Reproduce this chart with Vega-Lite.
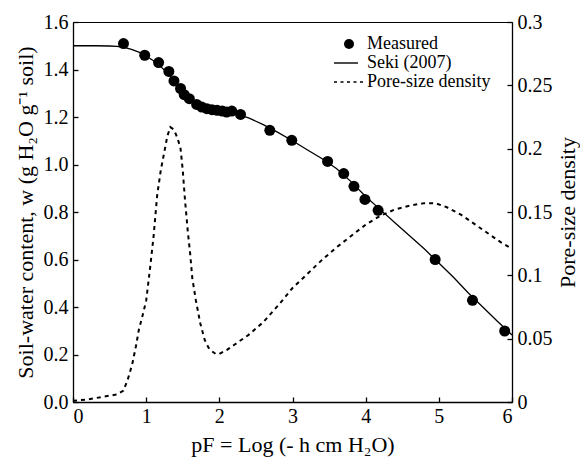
{
  "$schema": "https://vega.github.io/schema/vega-lite/v6.json",
  "width": 439,
  "height": 380,
  "autosize": {"type": "none"},
  "padding": {"left": 73, "top": 22, "right": 68, "bottom": 61},
  "background": "white",
  "config": {
    "view": {"stroke": "black", "strokeWidth": 1},
    "font": "Liberation Serif",
    "axis": {
      "labelFont": "Liberation Serif",
      "titleFont": "Liberation Serif",
      "labelColor": "black",
      "titleColor": "black",
      "domainColor": "black",
      "tickColor": "black",
      "titleFontWeight": "normal",
      "labelFontSize": 20,
      "titleFontSize": 22,
      "grid": false,
      "tickSize": -5,
      "domainWidth": 1.3,
      "tickWidth": 1.3
    },
    "legend": {
      "labelFont": "Liberation Serif",
      "labelFontSize": 18,
      "labelColor": "black"
    }
  },
  "datasets": {
    "seki": [
      {"pF": 0, "w": 1.5}, {"pF": 0.3, "w": 1.5}, {"pF": 0.5, "w": 1.499}, {"pF": 0.6, "w": 1.497},
      {"pF": 0.7, "w": 1.493}, {"pF": 0.8, "w": 1.485}, {"pF": 0.9, "w": 1.473}, {"pF": 1.0, "w": 1.457},
      {"pF": 1.1, "w": 1.437}, {"pF": 1.2, "w": 1.412}, {"pF": 1.3, "w": 1.382}, {"pF": 1.4, "w": 1.345},
      {"pF": 1.5, "w": 1.305}, {"pF": 1.6, "w": 1.275}, {"pF": 1.7, "w": 1.255}, {"pF": 1.8, "w": 1.242},
      {"pF": 1.9, "w": 1.234}, {"pF": 2.0, "w": 1.228}, {"pF": 2.1, "w": 1.222}, {"pF": 2.2, "w": 1.215},
      {"pF": 2.4, "w": 1.196}, {"pF": 2.6, "w": 1.168}, {"pF": 2.8, "w": 1.135}, {"pF": 3.0, "w": 1.1},
      {"pF": 3.2, "w": 1.062}, {"pF": 3.4, "w": 1.025}, {"pF": 3.6, "w": 0.983}, {"pF": 3.8, "w": 0.928},
      {"pF": 4.0, "w": 0.865}, {"pF": 4.2, "w": 0.81}, {"pF": 4.4, "w": 0.755}, {"pF": 4.6, "w": 0.7},
      {"pF": 4.8, "w": 0.645}, {"pF": 5.0, "w": 0.585}, {"pF": 5.2, "w": 0.525}, {"pF": 5.4, "w": 0.46},
      {"pF": 5.6, "w": 0.4}, {"pF": 5.8, "w": 0.34}, {"pF": 6.0, "w": 0.282}
    ],
    "measured": [
      {"pF": 0.69, "w": 1.509, "series": "Measured"},
      {"pF": 0.98, "w": 1.46, "series": "Measured"},
      {"pF": 1.17, "w": 1.429, "series": "Measured"},
      {"pF": 1.31, "w": 1.392, "series": "Measured"},
      {"pF": 1.38, "w": 1.352, "series": "Measured"},
      {"pF": 1.47, "w": 1.32, "series": "Measured"},
      {"pF": 1.52, "w": 1.294, "series": "Measured"},
      {"pF": 1.59, "w": 1.277, "series": "Measured"},
      {"pF": 1.69, "w": 1.253, "series": "Measured"},
      {"pF": 1.76, "w": 1.242, "series": "Measured"},
      {"pF": 1.83, "w": 1.235, "series": "Measured"},
      {"pF": 1.9, "w": 1.231, "series": "Measured"},
      {"pF": 1.97, "w": 1.228, "series": "Measured"},
      {"pF": 2.04, "w": 1.225, "series": "Measured"},
      {"pF": 2.1, "w": 1.221, "series": "Measured"},
      {"pF": 2.17, "w": 1.225, "series": "Measured"},
      {"pF": 2.29, "w": 1.211, "series": "Measured"},
      {"pF": 2.69, "w": 1.144, "series": "Measured"},
      {"pF": 2.99, "w": 1.102, "series": "Measured"},
      {"pF": 3.48, "w": 1.013, "series": "Measured"},
      {"pF": 3.7, "w": 0.962, "series": "Measured"},
      {"pF": 3.84, "w": 0.908, "series": "Measured"},
      {"pF": 3.99, "w": 0.853, "series": "Measured"},
      {"pF": 4.17, "w": 0.807, "series": "Measured"},
      {"pF": 4.95, "w": 0.6, "series": "Measured"},
      {"pF": 5.46, "w": 0.428, "series": "Measured"},
      {"pF": 5.9, "w": 0.299, "series": "Measured"}
    ],
    "pore": [
      {"pF": 0, "d": 0.001}, {"pF": 0.2, "d": 0.002}, {"pF": 0.4, "d": 0.004}, {"pF": 0.5, "d": 0.005},
      {"pF": 0.6, "d": 0.006}, {"pF": 0.69, "d": 0.009}, {"pF": 0.75, "d": 0.018}, {"pF": 0.81, "d": 0.03},
      {"pF": 0.86, "d": 0.044}, {"pF": 0.9, "d": 0.057}, {"pF": 0.95, "d": 0.068}, {"pF": 1.0, "d": 0.08},
      {"pF": 1.05, "d": 0.104}, {"pF": 1.1, "d": 0.13}, {"pF": 1.15, "d": 0.163}, {"pF": 1.2, "d": 0.183},
      {"pF": 1.25, "d": 0.198}, {"pF": 1.29, "d": 0.21}, {"pF": 1.33, "d": 0.217}, {"pF": 1.38, "d": 0.215},
      {"pF": 1.43, "d": 0.208}, {"pF": 1.47, "d": 0.2}, {"pF": 1.5, "d": 0.183}, {"pF": 1.53, "d": 0.16},
      {"pF": 1.57, "d": 0.134}, {"pF": 1.6, "d": 0.118}, {"pF": 1.63, "d": 0.098}, {"pF": 1.68, "d": 0.08},
      {"pF": 1.74, "d": 0.062}, {"pF": 1.8, "d": 0.049}, {"pF": 1.85, "d": 0.043}, {"pF": 1.9, "d": 0.04},
      {"pF": 1.95, "d": 0.038}, {"pF": 2.0, "d": 0.038}, {"pF": 2.1, "d": 0.041}, {"pF": 2.2, "d": 0.045},
      {"pF": 2.4, "d": 0.053}, {"pF": 2.6, "d": 0.063}, {"pF": 2.83, "d": 0.078}, {"pF": 3.0, "d": 0.09},
      {"pF": 3.2, "d": 0.101}, {"pF": 3.4, "d": 0.112}, {"pF": 3.6, "d": 0.122}, {"pF": 3.8, "d": 0.131},
      {"pF": 4.0, "d": 0.14}, {"pF": 4.2, "d": 0.147}, {"pF": 4.4, "d": 0.152}, {"pF": 4.6, "d": 0.155},
      {"pF": 4.8, "d": 0.157}, {"pF": 4.95, "d": 0.157}, {"pF": 5.1, "d": 0.154}, {"pF": 5.3, "d": 0.148},
      {"pF": 5.5, "d": 0.14}, {"pF": 5.7, "d": 0.132}, {"pF": 5.85, "d": 0.126}, {"pF": 6.0, "d": 0.121}
    ]
  },
  "layer": [
    {
      "layer": [
        {
          "data": {"name": "seki"},
          "mark": {"type": "line", "color": "black", "strokeWidth": 1.3},
          "encoding": {
            "x": {"field": "pF", "type": "quantitative", "scale": {"domain": [0, 6], "nice": false},
              "axis": {"title": "pF = Log (- h cm H₂O)", "values": [0, 1, 2, 3, 4, 5, 6], "format": "d", "labelPadding": 9, "titlePadding": 8}},
            "y": {"field": "w", "type": "quantitative", "scale": {"domain": [0, 1.6], "nice": false},
              "axis": {"title": "Soil-water content, w (g H₂O g⁻¹ soil)", "values": [0, 0.2, 0.4, 0.6, 0.8, 1.0, 1.2, 1.4, 1.6], "format": ".1f", "labelPadding": 10, "titlePadding": 6}}
          }
        },
        {
          "data": {"name": "measured"},
          "mark": {"type": "point", "filled": true, "color": "black", "size": 121, "opacity": 1},
          "encoding": {
            "x": {"field": "pF", "type": "quantitative"},
            "y": {"field": "w", "type": "quantitative"},
            "shape": {
              "field": "series", "type": "nominal",
              "scale": {
                "domain": ["Measured", "Seki (2007)", "Pore-size density"],
                "range": [
                  "circle",
                  "M-3.0,-0.14L1.8,-0.14L1.8,0.14L-3.0,0.14Z",
                  "M-3.0,-0.14L-2.4,-0.14L-2.4,0.14L-3.0,0.14ZM-1.7,-0.14L-1.1,-0.14L-1.1,0.14L-1.7,0.14ZM-0.4,-0.14L0.2,-0.14L0.2,0.14L-0.4,0.14ZM0.9,-0.14L1.5,-0.14L1.5,0.14L0.9,0.14ZM2.2,-0.14L2.8,-0.14L2.8,0.14L2.2,0.14Z"
                ]
              },
              "legend": {
                "title": null,
                "orient": "none",
                "legendX": 267,
                "legendY": 13,
                "symbolSize": 100,
                "symbolFillColor": "black",
                "labelOffset": 9,
                "rowPadding": 1,
                "padding": 0
              }
            }
          }
        }
      ]
    },
    {
      "data": {"name": "pore"},
      "mark": {"type": "line", "color": "black", "strokeWidth": 2, "strokeDash": [4, 4]},
      "encoding": {
        "x": {"field": "pF", "type": "quantitative"},
        "y": {"field": "d", "type": "quantitative", "scale": {"domain": [0, 0.3], "nice": false},
          "axis": {"orient": "right", "title": "Pore-size density", "values": [0, 0.05, 0.1, 0.15, 0.2, 0.25, 0.3], "format": "~g", "labelPadding": 10, "titleAngle": 270, "titlePadding": 27}}
      }
    }
  ],
  "resolve": {"scale": {"y": "independent"}}
}
